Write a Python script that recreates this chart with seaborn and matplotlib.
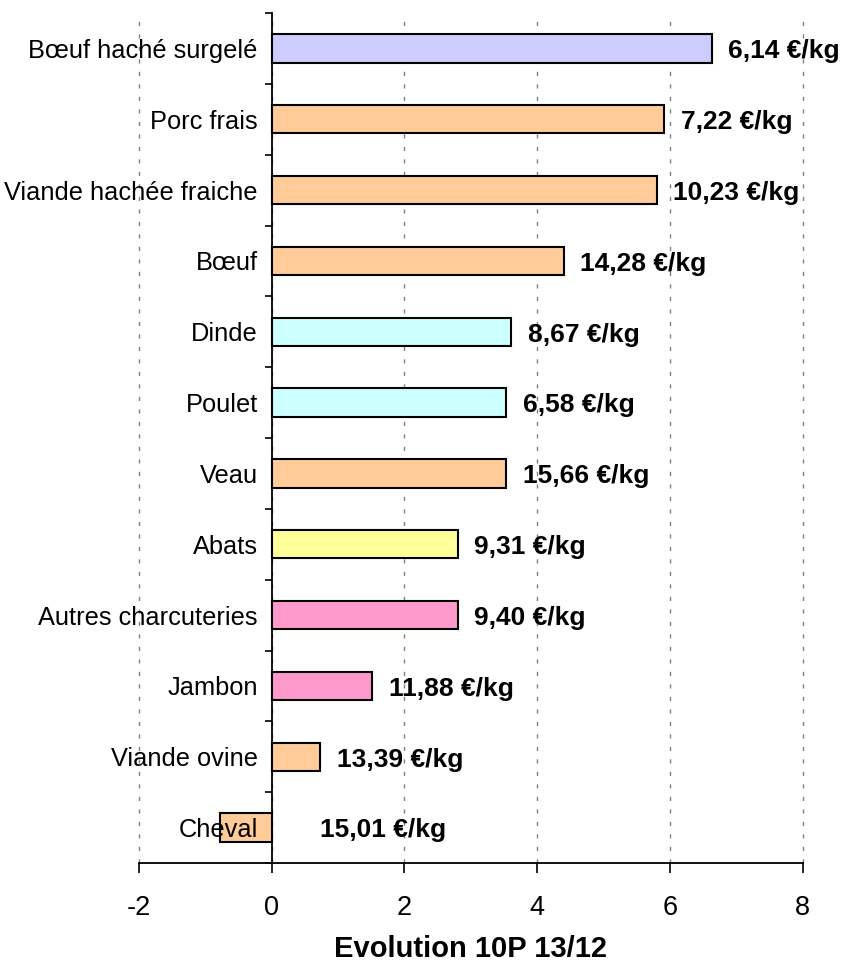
import matplotlib.pyplot as plt
import numpy as np
import pandas as pd
import seaborn as sns

sns.set_style('white')
plt.rcParams['font.family'] = ['Liberation Sans', 'DejaVu Sans']
plt.rcParams['text.color'] = 'black'
plt.rcParams['xtick.color'] = 'black'
plt.rcParams['ytick.color'] = 'black'
plt.rcParams['axes.labelcolor'] = 'black'

# data
categories = ["Bœuf haché surgelé", "Porc frais", "Viande hachée fraiche", "Bœuf",
              "Dinde", "Poulet", "Veau", "Abats", "Autres charcuteries",
              "Jambon", "Viande ovine", "Cheval"]
evolution = [6.63, 5.91, 5.80, 4.40, 3.61, 3.53, 3.53, 2.80, 2.80, 1.51, 0.73, -0.78]
prices = ["6,14 €/kg", "7,22 €/kg", "10,23 €/kg", "14,28 €/kg", "8,67 €/kg",
          "6,58 €/kg", "15,66 €/kg", "9,31 €/kg", "9,40 €/kg", "11,88 €/kg",
          "13,39 €/kg", "15,01 €/kg"]
bar_colors = ["#CCCCFF", "#FFCC99", "#FFCC99", "#FFCC99", "#CCFFFF", "#CCFFFF",
              "#FFCC99", "#FFFF99", "#FF99CC", "#FF99CC", "#FFCC99", "#FFCC99"]
x_ticks = [-2, 0, 2, 4, 6, 8]

df = pd.DataFrame({'categorie': categories, 'evolution': evolution})

fig = plt.figure(figsize=(8.45, 9.65), dpi=100)
ax = fig.add_axes([139 / 845, 1 - 863 / 965, (802.7 - 139) / 845, (863 - 13) / 965])

# dashed grid behind the bars
for t in x_ticks:
    ax.axvline(t, linestyle=(0, (3, 6)), color='#808080', linewidth=1.0,
               zorder=0.5, clip_on=False)

sns.barplot(data=df, x='evolution', y='categorie', hue='categorie',
            palette=dict(zip(categories, bar_colors)), saturation=1, orient='h',
            width=0.4, edgecolor='black', linewidth=1.5, legend=False, ax=ax, zorder=2)

# value labels next to the bars
for i, (v, txt) in enumerate(zip(evolution, prices)):
    ax.annotate(txt, xy=(max(v, 0), i), xytext=(12 if v > 0 else 35, -2),
                textcoords='offset points', ha='left', va='center',
                fontsize=19, fontweight='bold', color='black')

ax.set_xlim(-2, 8)
ax.set_ylim(len(categories) - 0.5, -0.5)
ax.set_xticks(x_ticks)
ax.set_xticklabels([str(t) for t in x_ticks])
ax.set_xlabel('Evolution 10P 13/12', fontsize=21, fontweight='bold', labelpad=10)
ax.set_ylabel('')
ax.grid(False)
ax.set_axisbelow(False)

# y axis sits at x = 0, ticks between categories
ax.spines['left'].set_position(('data', 0))
ax.spines['top'].set_visible(False)
ax.spines['right'].set_visible(False)
for s in ['left', 'bottom']:
    ax.spines[s].set_linewidth(1.3)
    ax.spines[s].set_color('black')
    ax.spines[s].set_zorder(3)

ax.set_yticks(np.arange(-0.5, len(categories), 1), minor=True)
ax.tick_params(axis='y', which='major', length=0, pad=10, labelsize=18.3)
ax.tick_params(axis='y', which='minor', length=5, width=1.2, direction='out',
               left=True, color='black')
ax.tick_params(axis='x', which='major', length=7, width=1.2, direction='out',
               bottom=True, color='black', labelsize=19.5, pad=16)

fig.savefig('out.png', dpi=100)
